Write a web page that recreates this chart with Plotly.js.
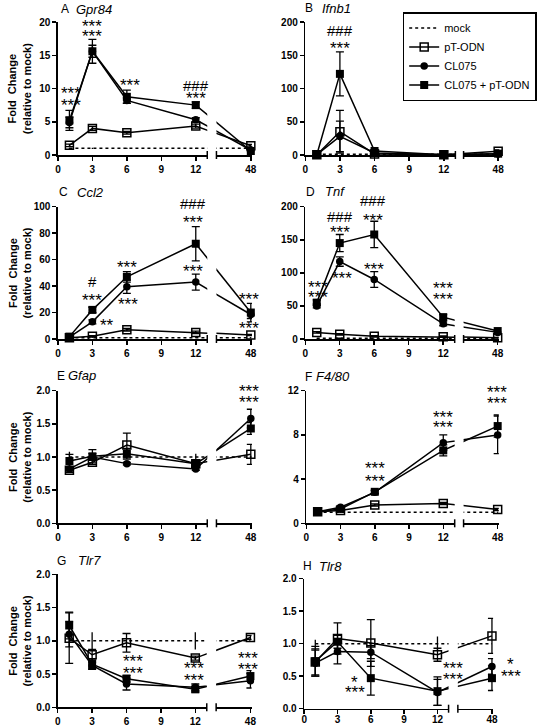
<!DOCTYPE html>
<html><head><meta charset="utf-8">
<script src="https://cdn.plot.ly/plotly-3.0.1.min.js"></script>
<style>html,body{margin:0;padding:0;background:#fff;}#chart{width:537px;height:726px;}</style>
</head><body><div id="chart"></div>
<script>
// ---------------- DATA ----------------
const times = [1, 3, 6, 12, 48];
const seriesNames = ['mock', 'pT-ODN', 'CL075', 'CL075 + pT-ODN'];
const panelLetters = ['A', 'B', 'C', 'D', 'E', 'F', 'G', 'H'];
const geneNames = ['Gpr84', 'Ifnb1', 'Ccl2', 'Tnf', 'Gfap', 'F4/80', 'Tlr7', 'Tlr8'];
const xTickLeft = [0, 3, 6, 9, 12];
const xTickRight = [48];

// A Gpr84
const gpr84Mock = [1, 1, 1, 1, 1];
const gpr84MockErr = [0.1, 0.1, 0.1, 0.1, 0.1];
const gpr84PT = [1.45, 4.0, 3.35, 4.35, 1.4];
const gpr84PTErr = [0.2, 0.3, 0.2, 0.3, 0.2];
const gpr84CL = [4.9, 15.6, 8.2, 5.3, 0.75];
const gpr84CLErr = [0.8, 0.9, 0.4, 0.3, 0.1];
const gpr84CLPT = [5.2, 15.6, 8.75, 7.5, 0.6];
const gpr84CLPTErr = [1.5, 1.8, 1.0, 0.5, 0.1];
const yTicksA = [0, 5, 10, 15, 20];

// B Ifnb1
const ifnb1Mock = [1, 1, 1, 1, 1];
const ifnb1MockErr = [0.3, 0.3, 0.3, 0.3, 0.3];
const ifnb1PT = [0.5, 35, 1.5, 0.5, 5.5];
const ifnb1PTErr = [0.2, 32, 1, 0.2, 2];
const ifnb1CL = [0.5, 28, 3, 0.5, 1.5];
const ifnb1CLErr = [0.2, 23, 1.5, 0.2, 0.5];
const ifnb1CLPT = [0.5, 122, 6, 0.5, 2];
const ifnb1CLPTErr = [0.3, 33, 2, 0.3, 1];
const yTicksB = [0, 50, 100, 150, 200];

// C Ccl2
const ccl2Mock = [1, 1, 1, 1, 1];
const ccl2MockErr = [0.3, 0.3, 0.3, 0.3, 0.3];
const ccl2PT = [1, 2, 7, 5, 3];
const ccl2PTErr = [0.3, 0.5, 1, 1, 0.5];
const ccl2CL = [1.5, 13, 39.5, 43, 18.5];
const ccl2CLErr = [0.5, 1.5, 5, 6, 3];
const ccl2CLPT = [1.8, 22, 47, 72, 20];
const ccl2CLPTErr = [0.5, 2, 4, 13, 7];
const yTicksC = [0, 20, 40, 60, 80, 100];

// D Tnf
const tnfMock = [1, 1, 1, 1, 1];
const tnfMockErr = [0.3, 0.3, 0.3, 0.3, 0.3];
const tnfPT = [10, 7, 4, 3.5, 2];
const tnfPTErr = [1, 1, 1, 1, 0.5];
const tnfCL = [50, 117, 90, 23, 10];
const tnfCLErr = [3, 7, 12, 3, 2];
const tnfCLPT = [55, 145, 158, 33, 12];
const tnfCLPTErr = [4, 13, 20, 4, 2];
const yTicksD = [0, 50, 100, 150, 200];

// E Gfap
const gfapMock = [1, 1, 1, 1, 1];
const gfapMockErr = [0.08, 0.02, 0.02, 0.05, 0.02];
const gfapPT = [0.80, 0.92, 1.18, 0.90, 1.04];
const gfapPTErr = [0.03, 0.03, 0.18, 0.03, 0.15];
const gfapCL = [0.82, 1.00, 0.90, 0.82, 1.58];
const gfapCLErr = [0.03, 0.05, 0.02, 0.02, 0.14];
const gfapCLPT = [0.94, 1.01, 1.05, 0.90, 1.43];
const gfapCLPTErr = [0.1, 0.1, 0.08, 0.05, 0.09];
const yTicksE = [0, 0.5, 1.0, 1.5, 2.0];

// F F4/80
const f480Mock = [1, 1, 1, 1, 1];
const f480MockErr = [0.05, 0.05, 0.05, 0.05, 0.05];
const f480PT = [1.05, 1.15, 1.65, 1.8, 1.25];
const f480PTErr = [0.05, 0.05, 0.1, 0.1, 0.1];
const f480CL = [1.05, 1.45, 2.8, 7.3, 8.0];
const f480CLErr = [0.05, 0.1, 0.15, 0.7, 1.7];
const f480CLPT = [1.05, 1.3, 2.85, 6.6, 8.8];
const f480CLPTErr = [0.05, 0.1, 0.15, 0.5, 1.0];
const yTicksF = [0, 4, 8, 12];

// G Tlr7
const tlr7Mock = [1, 1, 1, 1, 1];
const tlr7MockErr = [0, 0.13, 0, 0.13, 0];
const tlr7PT = [1.04, 0.79, 0.97, 0.74, 1.05];
const tlr7PTErr = [0.38, 0.08, 0.14, 0.03, 0.03];
const tlr7CL = [1.10, 0.63, 0.35, 0.30, 0.40];
const tlr7CLErr = [0.19, 0.05, 0.09, 0.05, 0.11];
const tlr7CLPT = [1.23, 0.65, 0.43, 0.27, 0.47];
const tlr7CLPTErr = [0.2, 0.08, 0.05, 0.04, 0.08];
const yTicksG = [0, 0.5, 1.0, 1.5, 2.0];

// H Tlr8
const tlr8Mock = [1, 1, 1, 1, 1];
const tlr8MockErr = [0.06, 0, 0, 0.11, 0];
const tlr8PT = [0.72, 1.08, 1.01, 0.83, 1.12];
const tlr8PTErr = [0.2, 0.24, 0.36, 0.1, 0.27];
const tlr8CL = [0.70, 0.88, 0.87, 0.25, 0.65];
const tlr8CLErr = [0.2, 0.19, 0.1, 0.2, 0.12];
const tlr8CLPT = [0.73, 1.03, 0.47, 0.27, 0.47];
const tlr8CLPTErr = [0.23, 0.1, 0.26, 0.22, 0.19];
const yTicksH = [0, 0.5, 1.0, 1.5, 2.0];

// significance labels: [panel, segment, time, value, text]
const sigLabels = [
  [0,'L',1.12,9.8,'***'],[0,'L',1.12,8.0,'***'],[0,'L',3,19.9,'***'],[0,'L',3,18.3,'***'],
  [0,'L',6.3,11.0,'***'],[0,'L',12,10.5,'###'],[0,'L',12,9.0,'***'],
  [1,'L',3,187,'###'],[1,'L',3,165,'***'],
  [2,'L',3,43.8,'#'],[2,'L',3,32,'***'],[2,'L',4.28,13.1,'**'],[2,'L',6.05,56.5,'***'],[2,'L',6.1,28.7,'***'],
  [2,'L',11.8,100,'###'],[2,'L',11.8,90.7,'***'],[2,'L',11.8,53.9,'***'],[2,'R',47.8,32.7,'***'],[2,'R',47.8,11.1,'***'],
  [3,'L',1.08,84,'***'],[3,'L',1.08,69,'***'],[3,'L',3,185,'###'],[3,'L',3,167,'***'],[3,'L',3.2,96.7,'***'],
  [3,'L',5.9,200,'###'],[3,'L',5.9,185,'***'],[3,'L',5.95,110,'***'],[3,'L',12,81.6,'***'],[3,'L',12,65.5,'***'],
  [4,'R',47.8,2.0,'***'],[4,'R',47.8,1.885,'***'],
  [5,'L',6,5.28,'***'],[5,'L',6,4.13,'***'],[5,'L',12,9.95,'***'],[5,'L',12,8.96,'***'],[5,'R',47.9,12,'***'],[5,'R',47.9,11.2,'***'],
  [6,'L',6.6,0.737,'***'],[6,'L',6.6,0.571,'***'],[6,'L',11.9,0.636,'***'],[6,'L',11.9,0.46,'***'],[6,'R',47.8,0.786,'***'],[6,'R',47.8,0.62,'***'],
  [7,'L',4.56,0.46,'*'],[7,'L',4.56,0.306,'***'],[7,'L',12.35,0.673,'***'],[7,'L',12.35,0.51,'***'],[7,'R',48,0.74,'*'],[7,'R',48,0.56,'***']
];

// ---------------- LAYOUT CONFIG ----------------
const W = 537, H = 726;
const fx = px => px / W;
const fy = py => 1 - py / H;
const FONT = 'Arial, "Liberation Sans", sans-serif';

const panels = [
  {mock:gpr84Mock, mockErr:gpr84MockErr, pt:gpr84PT, ptErr:gpr84PTErr, cl:gpr84CL, clErr:gpr84CLErr, clpt:gpr84CLPT, clptErr:gpr84CLPTErr, yr:[0,20], yt:yTicksA, dec:0},
  {mock:ifnb1Mock, mockErr:ifnb1MockErr, pt:ifnb1PT, ptErr:ifnb1PTErr, cl:ifnb1CL, clErr:ifnb1CLErr, clpt:ifnb1CLPT, clptErr:ifnb1CLPTErr, yr:[0,200], yt:yTicksB, dec:0},
  {mock:ccl2Mock, mockErr:ccl2MockErr, pt:ccl2PT, ptErr:ccl2PTErr, cl:ccl2CL, clErr:ccl2CLErr, clpt:ccl2CLPT, clptErr:ccl2CLPTErr, yr:[0,100], yt:yTicksC, dec:0},
  {mock:tnfMock, mockErr:tnfMockErr, pt:tnfPT, ptErr:tnfPTErr, cl:tnfCL, clErr:tnfCLErr, clpt:tnfCLPT, clptErr:tnfCLPTErr, yr:[0,200], yt:yTicksD, dec:0},
  {mock:gfapMock, mockErr:gfapMockErr, pt:gfapPT, ptErr:gfapPTErr, cl:gfapCL, clErr:gfapCLErr, clpt:gfapCLPT, clptErr:gfapCLPTErr, yr:[0,2], yt:yTicksE, dec:1},
  {mock:f480Mock, mockErr:f480MockErr, pt:f480PT, ptErr:f480PTErr, cl:f480CL, clErr:f480CLErr, clpt:f480CLPT, clptErr:f480CLPTErr, yr:[0,12], yt:yTicksF, dec:0},
  {mock:tlr7Mock, mockErr:tlr7MockErr, pt:tlr7PT, ptErr:tlr7PTErr, cl:tlr7CL, clErr:tlr7CLErr, clpt:tlr7CLPT, clptErr:tlr7CLPTErr, yr:[0,2], yt:yTicksG, dec:1},
  {mock:tlr8Mock, mockErr:tlr8MockErr, pt:tlr8PT, ptErr:tlr8PTErr, cl:tlr8CL, clErr:tlr8CLErr, clpt:tlr8CLPT, clptErr:tlr8CLPTErr, yr:[0,2], yt:yTicksH, dec:1}
];

// pixel geometry of each panel: left segment, right segment, plot top/bottom
const geom = [
  {xl:[58.7,210], xr:[219.3,255.3], y:[22,155]},
  {xl:[309.3,461.4], xr:[469.7,505.9], y:[22,155]},
  {xl:[58.7,210], xr:[219.3,255.3], y:[206.7,339]},
  {xl:[309.3,460.7], xr:[469.7,505.4], y:[206.7,339]},
  {xl:[58.7,210], xr:[219.3,255.3], y:[390.7,523.3]},
  {xl:[310.3,460.7], xr:[469.7,505.4], y:[390.7,523.3]},
  {xl:[58.5,209.5], xr:[219,254.9], y:[574.3,707.3]},
  {xl:[308.2,454.5], xr:[463.9,499.6], y:[578.7,708.7]}
];
const titlePos = [
  {lx:59.3, gx:75, y:9.3}, {lx:307.3, gx:324.7, y:8.5},
  {lx:57.3, gx:76, y:192.3}, {lx:308, gx:327.3, y:191.7},
  {lx:56, gx:67, y:375.7}, {lx:307.3, gx:318.5, y:376.7},
  {lx:56, gx:76.7, y:560.7}, {lx:304.7, gx:321.3, y:566}
];
const RIGHT_RANGE = [45, 48.1];

const styles = [
  {key:'mock', line:{color:'black', width:1.5, dash:'dot'}, marker:{symbol:'circle', size:2, color:'rgba(0,0,0,0)'}, ew:0},
  {key:'pt', line:{color:'black', width:1.5}, marker:{symbol:'square-open', size:8, color:'black', line:{width:1.5, color:'black'}}, ew:4},
  {key:'cl', line:{color:'black', width:1.5}, marker:{symbol:'circle', size:7.5, color:'black'}, ew:4},
  {key:'clpt', line:{color:'black', width:1.5}, marker:{symbol:'square', size:8, color:'black'}, ew:4}
];

const idx = (n) => n === 1 ? '' : String(n);
const lineTraces = [], markerTraces = [];
const layout = {
  width: W, height: H, margin:{l:0,r:0,t:0,b:0},
  paper_bgcolor:'white', plot_bgcolor:'rgba(0,0,0,0)',
  font:{family:FONT, color:'black'},
  showlegend:true,
  legend:{x:fx(408), y:fy(12), xanchor:'left', yanchor:'top', bgcolor:'white', bordercolor:'black', borderwidth:1.5,
          font:{family:FONT, size:11, color:'black'}, itemwidth:30, tracegroupgap:0},
  annotations:[], shapes:[]
};

panels.forEach((p, i) => {
  const g = geom[i];
  const nL = 2*i+1, nR = 2*i+2, nY = i+1;
  const xL = 'x'+idx(nL), xR = 'x'+idx(nR), yA = 'y'+idx(nY);
  const sL = (g.xl[1]-g.xl[0]) / 13;
  const sR = (g.xr[1]-g.xr[0]) / (RIGHT_RANGE[1]-RIGHT_RANGE[0]);
  const px12 = g.xl[0] + 12*sL;
  const px48 = g.xr[0] + (48-RIGHT_RANGE[0])*sR;
  const d = px48 - px12;
  const vL = 12 + d/sL, vR = 48 - d/sR;

  styles.forEach(st => {
    const vals = p[st.key], errs = p[st.key+'Err'];
    lineTraces.push({x:[...times.slice(0,4), vL], y:vals.slice(), xaxis:xL, yaxis:yA, mode:'lines', line:st.line, showlegend:false, hoverinfo:'skip'});
    lineTraces.push({x:[vR, times[4]], y:[vals[3], vals[4]], xaxis:xR, yaxis:yA, mode:'lines', line:st.line, showlegend:false, hoverinfo:'skip'});
    const eb = (arr) => ({type:'data', array:arr, visible:true, color:'black', thickness:1.3, width:st.ew});
    markerTraces.push({x:times.slice(0,4), y:vals.slice(0,4), xaxis:xL, yaxis:yA, mode:'markers', marker:st.marker, error_y:eb(errs.slice(0,4)), cliponaxis:false, showlegend:false, hoverinfo:'skip'});
    markerTraces.push({x:[times[4]], y:[vals[4]], xaxis:xR, yaxis:yA, mode:'markers', marker:st.marker, error_y:eb([errs[4]]), cliponaxis:false, showlegend:false, hoverinfo:'skip'});
  });

  const axCommon = {showline:true, linecolor:'black', linewidth:1.5, ticks:'outside', ticklen:4, tickwidth:1.5, tickcolor:'black',
    showgrid:false, zeroline:false, fixedrange:true, tickfont:{family:FONT, size:10, color:'black', weight:'bold'}};
  const xStandoff = i === 7 ? -3 : 0;
  layout['xaxis'+idx(nL)] = Object.assign({}, axCommon, {domain:[fx(g.xl[0]), fx(g.xl[1])], range:[0,13], anchor:yA,
    tickmode:'array', tickvals:xTickLeft, ticktext:xTickLeft.map(String), ticklabelstandoff:xStandoff});
  layout['xaxis'+idx(nR)] = Object.assign({}, axCommon, {domain:[fx(g.xr[0]), fx(g.xr[1])], range:RIGHT_RANGE, anchor:yA,
    tickmode:'array', tickvals:xTickRight, ticktext:xTickRight.map(String), ticklabelstandoff:xStandoff});
  layout['yaxis'+idx(nY)] = Object.assign({}, axCommon, {domain:[fy(g.y[1]), fy(g.y[0])], range:p.yr, anchor:xL,
    tickmode:'array', tickvals:p.yt, ticktext:p.yt.map(v => v.toFixed(p.dec))});

  // break caps
  [g.xl[1], g.xr[0]].forEach(px => {
    layout.shapes.push({type:'line', xref:'paper', yref:'paper', x0:fx(px), x1:fx(px), y0:fy(g.y[1]-4), y1:fy(g.y[1]+4),
      line:{color:'black', width:1.5}});
  });

  // panel titles
  const tp = titlePos[i];
  layout.annotations.push({xref:'paper', yref:'paper', x:fx(tp.lx), y:fy(tp.y), xanchor:'left', yanchor:'middle', showarrow:false,
    text:panelLetters[i], font:{family:FONT, size:12, color:'black'}});
  layout.annotations.push({xref:'paper', yref:'paper', x:fx(tp.gx), y:fy(tp.y), xanchor:'left', yanchor:'middle', showarrow:false,
    text:'<i>'+geneNames[i]+'</i>', font:{family:FONT, size:13, color:'black'}});

  // y-axis titles for left column
  if (i % 2 === 0) {
    layout.annotations.push({xref:'paper', yref:'paper', x:fx(20), y:fy((g.y[0]+g.y[1])/2), xanchor:'center', yanchor:'middle',
      showarrow:false, textangle:-90, text:'Fold  Change<br>(relative to mock)', font:{family:FONT, size:11, color:'black', weight:'bold'}});
  }
});

// significance annotations
sigLabels.forEach(([pi, seg, xv, yv, txt]) => {
  const nX = seg === 'L' ? 2*pi+1 : 2*pi+2;
  const isStar = txt.indexOf('*') >= 0;
  const p = panels[pi];
  let yshift = isStar ? -3.7 : 0;
  const ann = {xref:'x'+idx(nX), yref:'y'+idx(pi+1), x:xv, y:yv, showarrow:false, text:txt, xanchor:'center', yanchor:'middle',
    font:{family:FONT, size:isStar ? 17 : 15, color:'black'}};
  if (pi === 7 && seg === 'L' && xv > 12) ann.xanchor = 'left';
  if (pi === 7 && seg === 'R') ann.xshift = 19;
  if (yv >= p.yr[1]) {
    const extra = {2:3.3, 3:6.6, 4:2.6, 5:2.2}[pi] || 0;
    yshift += extra;
  }
  ann.yshift = yshift;
  layout.annotations.push(ann);
});

// legend entries
const legendTraces = styles.map((st, k) => ({x:[null], y:[null], xaxis:'x', yaxis:'y', name:seriesNames[k],
  mode: k === 0 ? 'lines' : 'lines+markers', line:st.line, marker:st.marker, showlegend:true, hoverinfo:'skip'}));

Plotly.newPlot('chart', [...lineTraces, ...markerTraces, ...legendTraces], layout, {staticPlot:true, displayModeBar:false});
</script>
</body></html>
